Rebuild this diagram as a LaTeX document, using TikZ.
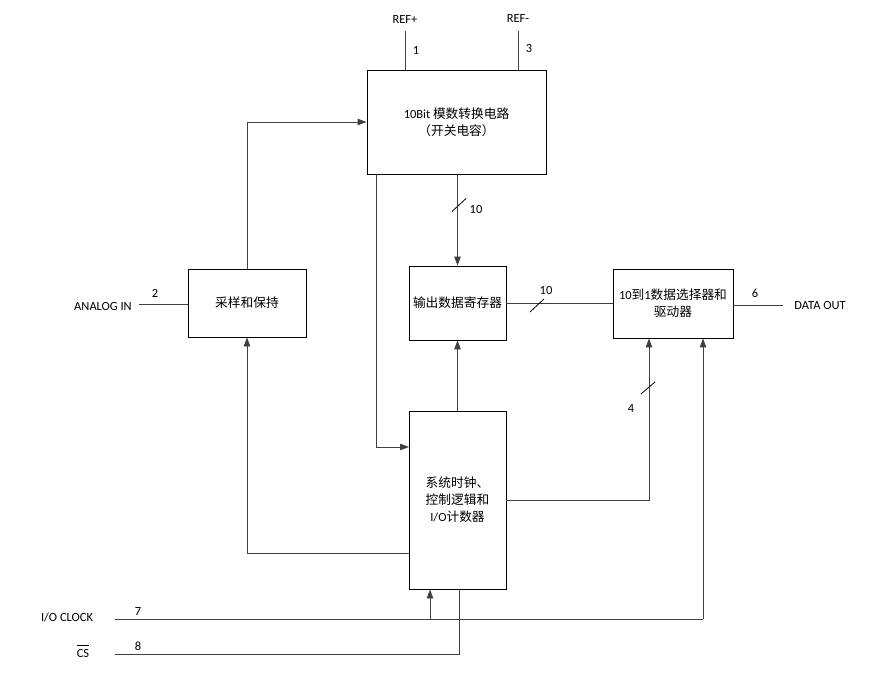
\documentclass[tikz,border=0pt]{standalone}
\usepackage{fontspec}
\setmainfont{Carlito}
\newfontfamily\cjk[Scale=1.02]{Noto Sans CJK SC}
\usetikzlibrary{arrows.meta,calc}
\begin{document}
\begin{tikzpicture}[x=1bp,y=-1bp,
  every node/.style={font=\fontsize{12.5}{17}\selectfont, inner sep=0pt},
  blk/.style={draw=black, line width=0.9pt, align=center},
  wire/.style={draw=black!75, line width=0.9pt},
  arr/.style={wire, -{Triangle[length=9bp,width=6.5bp]}},
  slashmark/.style={draw=black, line width=0.8pt},
  lbl/.style={text=black}]
\useasboundingbox (0,0) rectangle (890,689);
% boxes
\node[blk, minimum width=179bp, minimum height=104bp] (adc) at (456.5,122)
  {10Bit {\cjk 模数转换电路}\\{\cjk （开关电容）}};
\node[blk, minimum width=118bp, minimum height=68bp] (sh) at (247,303) {\cjk 采样和保持};
\node[blk, minimum width=97bp, minimum height=74bp] (reg) at (457.5,303) {\cjk 输出数据寄存器};
\node[blk, minimum width=120bp, minimum height=69bp] (mux) at (673,303.5)
  {10{\cjk 到}1{\cjk 数据选择器和}\\{\cjk 驱动器}};
\node[blk, minimum width=97bp, minimum height=178bp] (ctl) at (457.5,500)
  {{\cjk 系统时钟、}\\{\cjk 控制逻辑和}\\I/O{\cjk 计数器}};
% REF pins
\node[lbl] (refpl) at (405,20) {REF+};
\node[lbl] (refml) at (518,19) {REF-};
\coordinate (refp) at (405,31);
\coordinate (refm) at (518,31);
\draw[wire] (refp) -- (refp |- adc.north);
\draw[wire] (refm) -- (refm |- adc.north);
\node[lbl] (n1) at (416,50) {1};
\node[lbl] (n3) at (529,49) {3};
% analog in
\node[lbl] (ain) at (103,306) {ANALOG IN};
\coordinate (ainend) at (139,304);
\draw[wire] (ainend) -- (ainend -| sh.west);
\node[lbl] (n2) at (155,293) {2};
% S/H to ADC
\draw[arr] (sh.north) |- (adc.west);
% ADC to register
\draw[arr] (adc.south -| reg.north) -- (reg.north);
\draw[slashmark] (452,211.5) -- (466,198.5);
\node[lbl] (n10a) at (476,210) {10};
% ADC to control
\coordinate (adcb) at (376,174);
\coordinate (ctlin) at (409,447);
\draw[arr] (adcb) |- (ctlin);
% control to register
\draw[arr] (ctl.north) -- (reg.south);
% register to mux
\draw[wire] (reg.east) -- (mux.west |- reg.east);
\draw[slashmark] (530,312) -- (544,299);
\node[lbl] (n10b) at (546,290) {10};
% mux out
\coordinate (dout) at (783,305);
\draw[wire] (mux.east |- dout) -- (dout);
\node[lbl] (n6) at (755,293) {6};
\node[lbl] (doutl) at (820,306) {DATA OUT};
% control to mux (4)
\coordinate (c4) at (649,500);
\draw[arr] (ctl.east |- c4) -| (mux.south -| c4);
\draw[slashmark] (641,394) -- (655,382);
\node[lbl] (n4) at (631,408) {4};
% control to S/H
\coordinate (csh) at (409,553);
\draw[arr] (csh) -| (sh.south);
% I/O clock
\node[lbl] (iocl) at (67,617) {I/O CLOCK};
\coordinate (ioc) at (115,619);
\coordinate (iocr) at (703,619);
\coordinate (iocb) at (430,619);
\draw[wire] (ioc) -- (iocr);
\draw[arr] (iocr) -- (mux.south -| iocr);
\draw[arr] (iocb) -- (ctl.south -| iocb);
\node[lbl] (n7) at (138,611) {7};
% CS
\node[lbl] (csl) at (83,651) {$\overline{\vphantom{I}\smash{\mbox{CS}}\rule{0pt}{10.5bp}}$};
\coordinate (cs) at (115,654);
\coordinate (csr) at (459,654);
\draw[wire] (cs) -- (csr) -- (ctl.south -| csr);
\node[lbl] (n8) at (138,646) {8};
\end{tikzpicture}
\end{document}
